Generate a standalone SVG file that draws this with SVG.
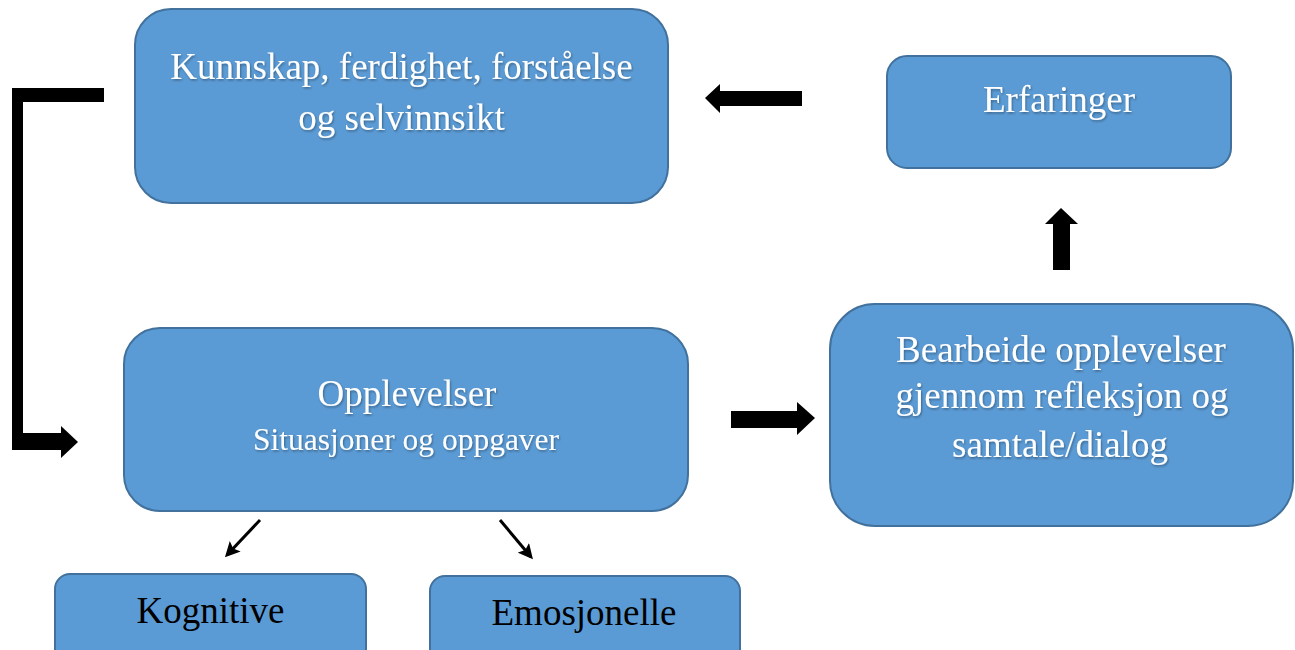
<svg xmlns="http://www.w3.org/2000/svg" width="1295" height="650" viewBox="0 0 1295 650">
<style>
.box{fill:#5B9BD5;stroke:#41719C;stroke-width:2}
.t{font-family:"Liberation Serif","Times New Roman",serif;font-size:37px;fill:#FFFFFF;text-anchor:middle;filter:url(#sh)}
.tk{font-family:"Liberation Serif","Times New Roman",serif;font-size:37px;fill:#000000;text-anchor:middle}
.blk{fill:#000000}
.thin{stroke:#000000;stroke-width:3;fill:none}
</style>
<defs>
<filter id="sh" x="-10%" y="-30%" width="120%" height="160%">
<feDropShadow dx="1" dy="1.5" stdDeviation="1" flood-color="#000000" flood-opacity="0.35"/>
</filter>
<marker id="ah" viewBox="0 0 10 10" refX="8" refY="5" markerWidth="5" markerHeight="5" orient="auto" markerUnits="strokeWidth">
<path d="M0,0 L10,5 L0,10 L2,5 Z" fill="#000000"/>
</marker>
</defs>
<g id="connectors">
<polygon class="blk" points="802,91 720,91 720,84 705,98 720,113 720,106 802,106"/>
<polygon class="blk" points="1053,270 1053,224 1045,224 1061,208 1078,224 1070,224 1070,270"/>
<polygon class="blk" points="731,411 797,411 797,402 815,418 797,435 797,428 731,428"/>
<polygon class="blk" points="12,88 104,88 104,102 23,102 23,433 61,433 61,426 78,442 61,458 61,450 12,450"/>
<line class="thin" x1="260" y1="520" x2="227" y2="555" marker-end="url(#ah)"/>
<line class="thin" x1="500" y1="520" x2="531" y2="557" marker-end="url(#ah)"/>
</g>
<g id="kunnskap">
<rect class="box" x="135" y="9" width="533" height="194" rx="36"/>
<text class="t" x="401.5" y="79">Kunnskap, ferdighet, forståelse</text>
<text class="t" x="401.5" y="130">og selvinnsikt</text>
</g>
<g id="erfaringer">
<rect class="box" x="887" y="56" width="344" height="112" rx="20"/>
<text class="t" x="1059" y="112">Erfaringer</text>
</g>
<g id="opplevelser">
<rect class="box" x="124" y="328" width="564" height="183" rx="36"/>
<text class="t" x="407" y="406">Opplevelser</text>
<text class="t" x="406" y="450" style="font-size:31.5px">Situasjoner og oppgaver</text>
</g>
<g id="bearbeide">
<rect class="box" x="830" y="304" width="463" height="222" rx="45"/>
<text class="t" x="1061" y="362">Bearbeide opplevelser</text>
<text class="t" x="1062" y="408">gjennom refleksjon og</text>
<text class="t" x="1060" y="457">samtale/dialog</text>
</g>
<g id="kognitive">
<rect class="box" x="55" y="574" width="311" height="90" rx="15"/>
<text class="tk" x="210.5" y="623">Kognitive</text>
</g>
<g id="emosjonelle">
<rect class="box" x="430" y="576" width="310" height="90" rx="15"/>
<text class="tk" x="584" y="625">Emosjonelle</text>
</g>
</svg>
